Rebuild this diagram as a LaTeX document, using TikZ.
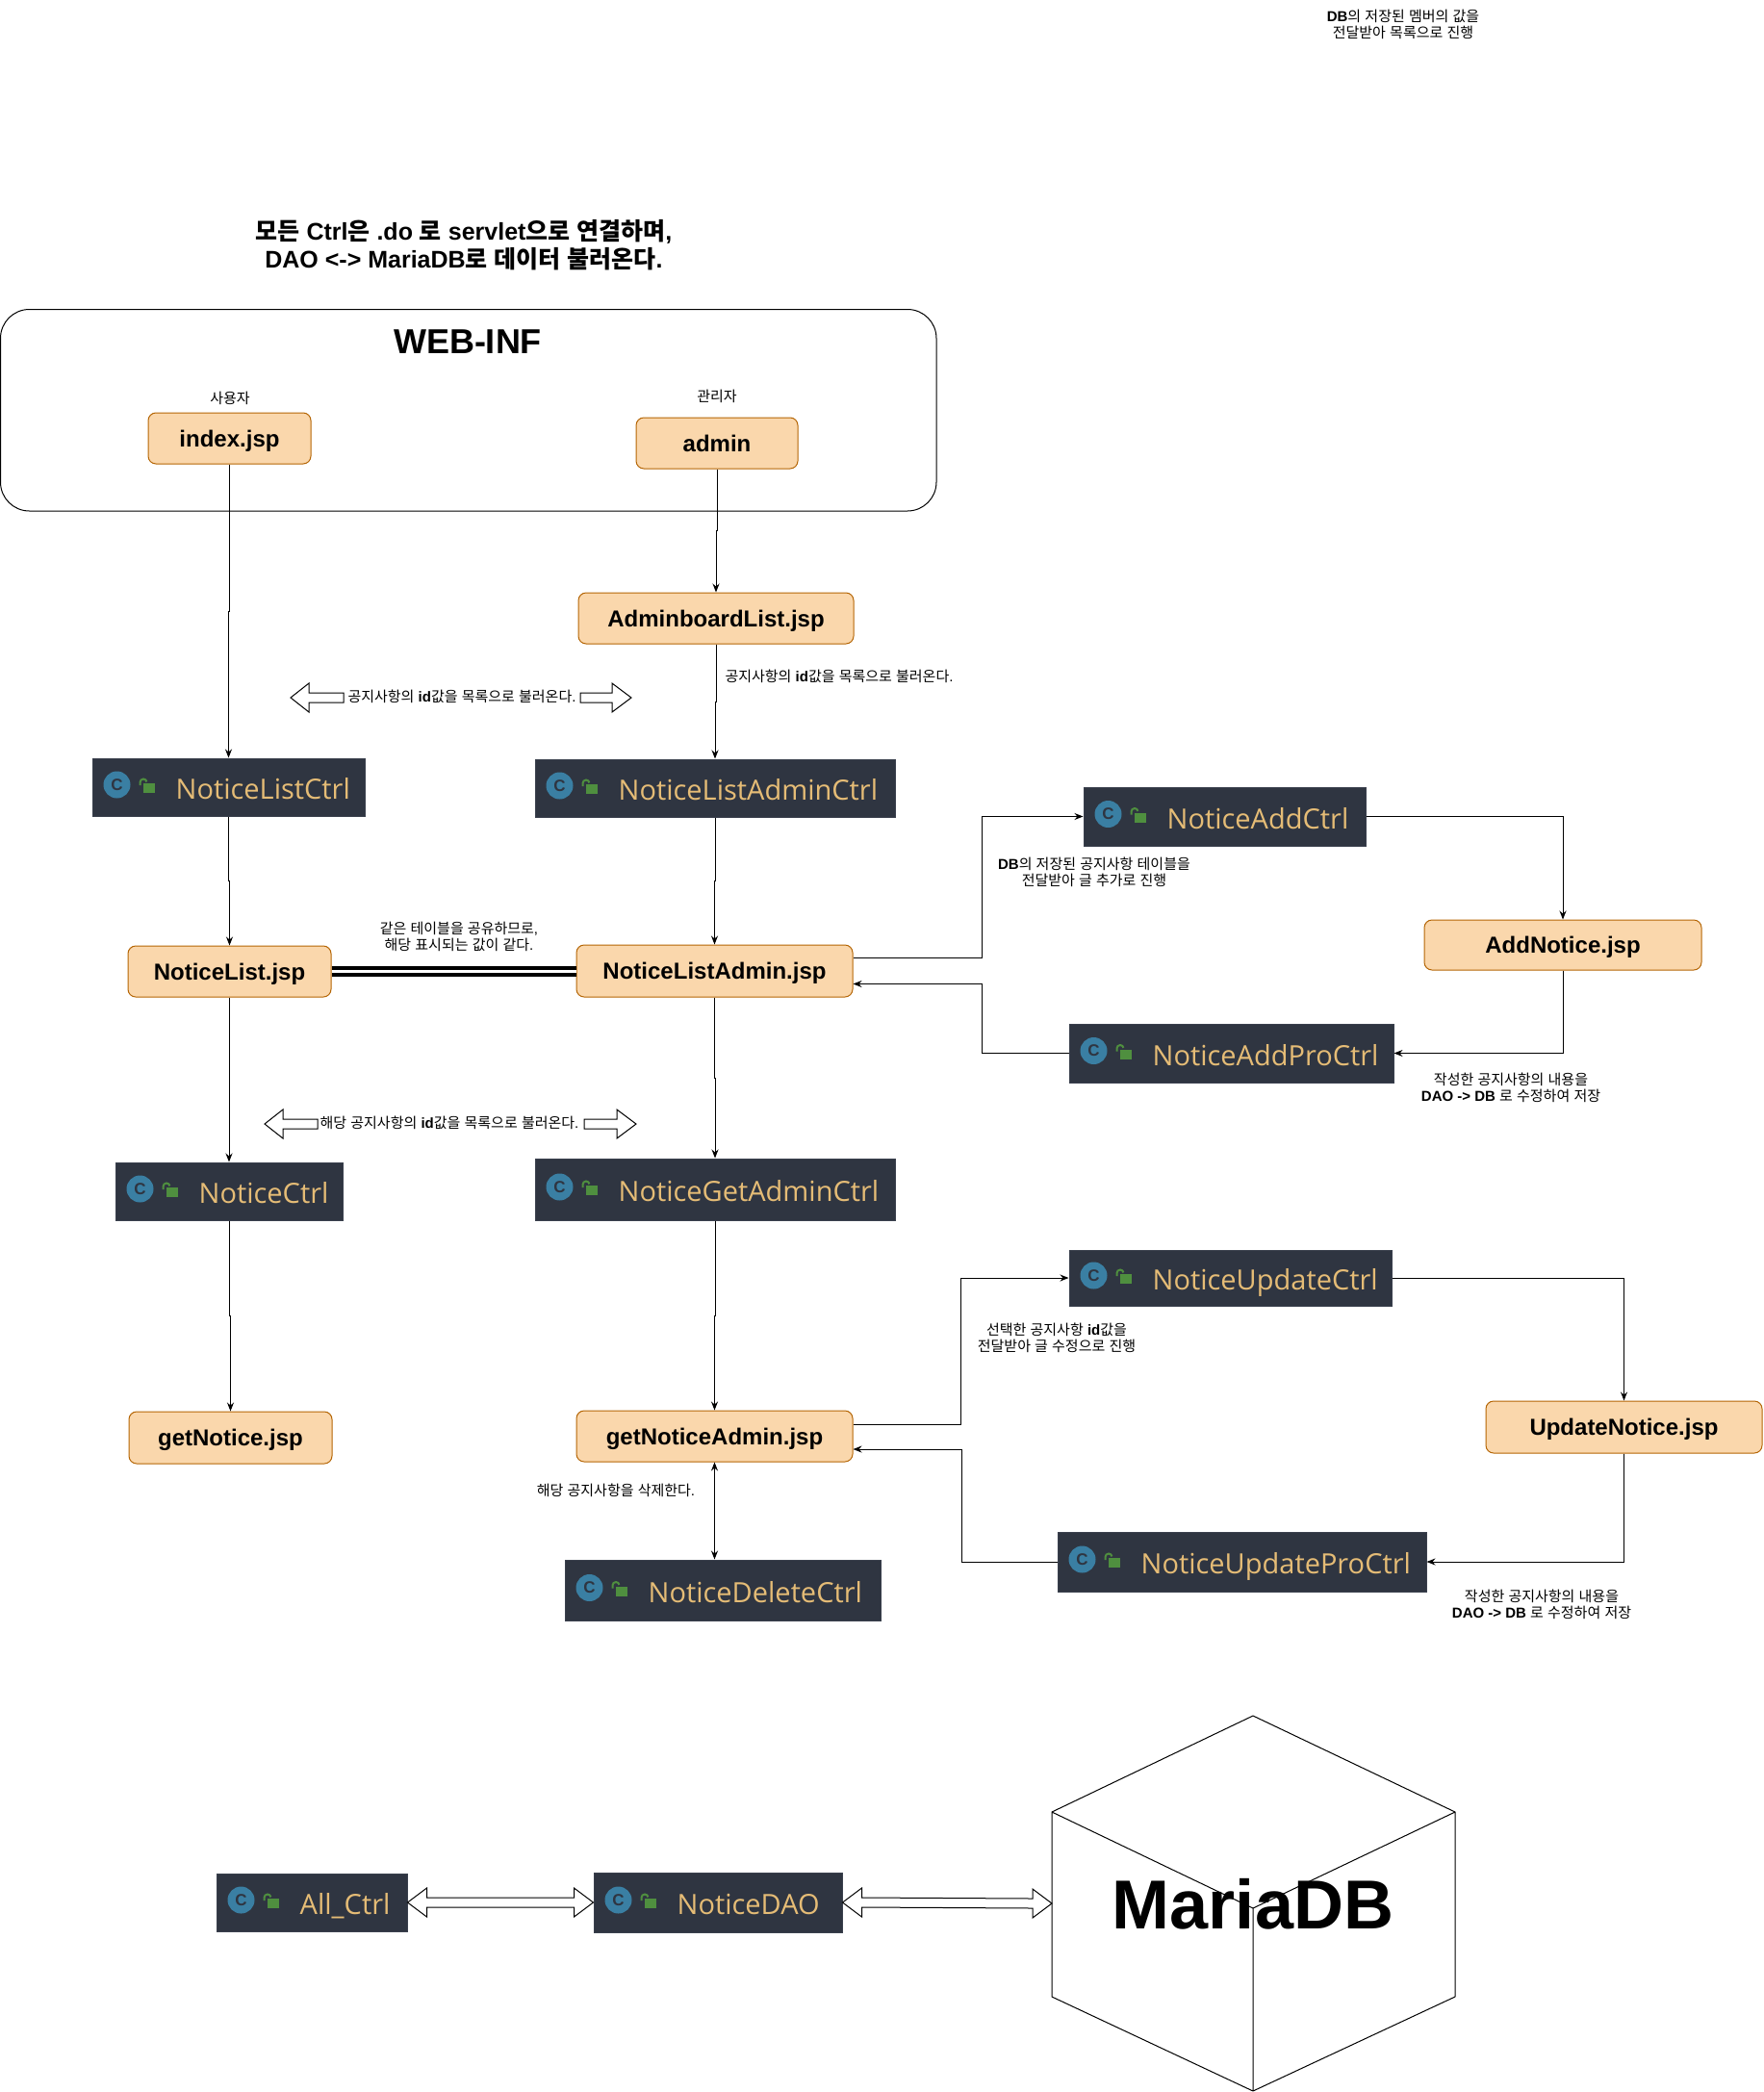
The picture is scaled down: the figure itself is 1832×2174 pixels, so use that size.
\documentclass[tikz,border=0pt]{standalone}
\usepackage{fontspec}
\setmainfont{Liberation Sans}
\newfontfamily\krfont{Noto Sans CJK KR}
\newfontfamily\ctrlfont{Open Sans}
\usetikzlibrary{calc,arrows.meta}
\definecolor{jspfill}{HTML}{FAD7AC}
\definecolor{jspline}{HTML}{B46504}
\definecolor{ctrlbg}{HTML}{2F3541}
\definecolor{ctrledge}{HTML}{3A404D}
\definecolor{ctrltxt}{HTML}{E5BC76}
\definecolor{icoblue}{HTML}{3A7FA3}
\definecolor{icogreen}{HTML}{4F8F3F}
% Hangul runs switch to the CJK family
\newXeTeXintercharclass\krclass
\count255="AC00
\loop\XeTeXcharclass\count255=\krclass\ifnum\count255<"D7A3 \advance\count255 by 1 \repeat
\XeTeXinterchartokenstate=1
\XeTeXinterchartoks 0 \krclass={\krfont}
\XeTeXinterchartoks \krclass 0 ={\rmfamily}
\XeTeXinterchartoks 4095 \krclass={\krfont}
\XeTeXinterchartoks \krclass 4095 ={\rmfamily}
\tikzset{
  jsp/.style={draw=jspline,fill=jspfill,rounded corners=8pt,line width=1pt,inner sep=0pt,
     text height=17pt,text depth=0pt,font=\fontsize{24}{28}\selectfont\bfseries},
  ctrlbox/.style={draw=ctrledge,fill=ctrlbg,line width=1pt,inner sep=0pt},
  ctrltext/.style={text=ctrltxt,inner sep=0pt,anchor=west,text height=22pt,text depth=0pt,font=\ctrlfont\fontsize{29}{32}\selectfont},
  icon/.style={circle,fill=icoblue,minimum size=28pt,inner sep=0pt,text=ctrlbg,font=\fontsize{17}{17}\selectfont\bfseries},
  note/.style={align=center,inner sep=0pt,font=\fontsize{15}{17}\selectfont},
  flow/.style={draw=black,line width=1pt,-{Stealth[length=9pt,width=7pt]}},
  wire/.style={draw=black,line width=1pt},
  kink/.style={to path={(\tikztostart) |- ($(\tikztostart)!.5!(\tikztotarget)$) -| (\tikztotarget)}},
  block/.style={draw=black,fill=white,line width=1pt},
}
\newcommand{\jspnode}[6]{\node[jsp,minimum width={#4pt-#2pt},minimum height={#5pt-#3pt}] (#1) at ({(#2+#4)/2},{(#3+#5)/2}) {#6};}
\newcommand{\ctrlnode}[6]{%
  \node[ctrlbox,minimum width={#4pt-#2pt},minimum height={#5pt-#3pt}] (#1) at ({(#2+#4)/2},{(#3+#5)/2}) {};
  \node[icon] (#1-c) at ([xshift=26pt,yshift=2.5pt]#1.west) {C};
  \fill[icogreen] ([xshift=53pt,yshift=4pt]#1.west) rectangle ++(12,10);
  \draw[icogreen,line width=2pt] ([xshift=50pt,yshift=2pt]#1.west) -- ++(0,-3) arc[start angle=180,end angle=10,radius=3.5pt];
  \node[ctrltext] (#1-t) at ([xshift=87pt,yshift=-1.5pt]#1.west) {#6};
}
\newcommand{\blockpair}[2]{%
  \draw[block] (#1) -- ($(#1)+(20,-15)$) -- ($(#1)+(20,-5)$) -- ($(#2)+(-20,-5)$) -- ($(#2)+(-20,-15)$) -- (#2)
     -- ($(#2)+(-20,15)$) -- ($(#2)+(-20,5)$) -- ($(#1)+(20,5)$) -- ($(#1)+(20,15)$) -- cycle;
}
\begin{document}
\begin{tikzpicture}[x=1pt,y=-1pt]
\useasboundingbox (0,0) rectangle (1832,2174);
\node[note] (topnote) at (1458,25) {\textbf{DB}의 저장된 멤버의 값을\\전달받아 목록으로 진행};
\node[align=center,inner sep=0pt,font=\fontsize{25}{29}\selectfont\bfseries] (title) at (482,255) {모든 Ctrl은 .do 로 servlet으로 연결하며,\\DAO <-> MariaDB로 데이터 불러온다.};
\draw[line width=1pt,rounded corners=30pt] (0.5,321.5) rectangle (973,531);
\node[inner sep=0pt,font=\fontsize{36}{36}\selectfont\bfseries] (webinf) at (486,355) {WEB-INF};
\node[note] (user) at (239,414) {사용자};
\node[note] (manager) at (745,412) {관리자};
\jspnode{index}{154}{429}{323}{482}{index.jsp}
\jspnode{admin}{661}{434}{829}{487}{admin}
\jspnode{adminboard}{601}{616}{887}{669}{AdminboardList.jsp}
\ctrlnode{listctrl}{96}{788}{379}{848}{NoticeListCtrl}
\ctrlnode{listadminctrl}{556}{789}{930}{849}{NoticeListAdminCtrl}
\jspnode{noticelist}{133}{983}{344}{1036}{NoticeList.jsp}
\jspnode{listadmin}{599}{982}{886}{1036}{NoticeListAdmin.jsp}
\ctrlnode{addctrl}{1126}{818}{1419}{879}{NoticeAddCtrl}
\jspnode{addnotice}{1480}{956}{1768}{1008}{AddNotice.jsp}
\ctrlnode{addpro}{1111}{1064}{1448}{1125}{NoticeAddProCtrl}
\ctrlnode{noticectrl}{120}{1208}{356}{1268}{NoticeCtrl}
\ctrlnode{getadmin}{556}{1204}{930}{1268}{NoticeGetAdminCtrl}
\ctrlnode{updatectrl}{1111}{1299}{1446}{1357}{NoticeUpdateCtrl}
\jspnode{updatenotice}{1544}{1456}{1831}{1510}{UpdateNotice.jsp}
\jspnode{getnotice}{134}{1467}{345}{1521}{getNotice.jsp}
\jspnode{getnoticeadmin}{599}{1466}{886}{1519}{getNoticeAdmin.jsp}
\ctrlnode{updatepro}{1099}{1592}{1482}{1654}{NoticeUpdateProCtrl}
\ctrlnode{deletectrl}{587}{1621}{915}{1684}{NoticeDeleteCtrl}
\ctrlnode{allctrl}{225}{1947}{423}{2007}{All\_Ctrl}
\ctrlnode{dao}{617}{1946}{875}{2008}{NoticeDAO}
% cube
\coordinate (cT) at (1302,1783); \coordinate (cLT) at (1093,1883); \coordinate (cRT) at (1512,1883);
\coordinate (cM) at (1302,1983); \coordinate (cLB) at (1093,2075); \coordinate (cRB) at (1512,2075);
\coordinate (cB) at (1302,2173); \coordinate (cW) at (1093,1978);
\draw[line width=1pt,line join=round] (cT) -- (cRT) -- (cRB) -- (cB) -- (cLB) -- (cLT) -- cycle (cLT) -- (cM) -- (cRT) (cM) -- (cB);
\node[inner sep=0pt,font=\fontsize{72}{72}\selectfont\bfseries] (mariadb) at (1302,1979) {MariaDB};
% connectors
\draw[flow] (index.south) to[kink] (listctrl.north);
\draw[flow] (admin.south) to[kink] (adminboard.north);
\draw[flow] (adminboard.south) to[kink] (listadminctrl.north);
\draw[flow] (listctrl.south) to[kink] (noticelist.north);
\draw[flow] (listadminctrl.south) to[kink] (listadmin.north);
\draw[flow] (noticelist.south) to[kink] (noticectrl.north);
\draw[flow] (listadmin.south) to[kink] (getadmin.north);
\draw[flow] (noticectrl.south) to[kink] (getnotice.north);
\draw[flow] (getadmin.south) to[kink] (getnoticeadmin.north);
\draw[flow,{Stealth[length=9pt,width=7pt]}-{Stealth[length=9pt,width=7pt]}] (getnoticeadmin.south) -- (getnoticeadmin.south |- deletectrl.north);
\draw[draw=black,line width=3.5pt,double=white,double distance=3.5pt] (noticelist.east) -- (noticelist.east -| listadmin.west);
\draw[flow] ([yshift=13.5pt]listadmin.east) -- ++(134,0) |- (addctrl.west);
\draw[flow] (addctrl.east) -| (addnotice.north);
\draw[flow] (addnotice.south) |- (addpro.east);
\draw[flow] (addpro.west) -- ++(-90,0) |- ([yshift=-13.5pt]listadmin.east);
\draw[flow] ([yshift=12.5pt]getnoticeadmin.east) -- ++(112,0) |- (updatectrl.west);
\draw[flow] (updatectrl.east) -| (updatenotice.north);
\draw[flow] (updatenotice.south) |- (updatepro.east);
\draw[flow] (updatepro.west) -- ++(-99,0) |- ([yshift=-13.5pt]getnoticeadmin.east);
\blockpair{allctrl.east}{dao.west}
\blockpair{dao.east}{cW}
% block arrows with captions
\coordinate (ba) at (302,725); \coordinate (bb) at (656,725);
\draw[block] (ba) -- ++(19,-15) -- ++(0,10) -- ++(36,0) -- ++(0,10) -- ++(-36,0) -- ++(0,10) -- cycle;
\draw[block] (bb) -- ++(-20,-15) -- ++(0,10) -- ++(-33,0) -- ++(0,10) -- ++(33,0) -- ++(0,10) -- cycle;
\node[note] (cap1) at (480,724) {공지사항의 \textbf{id}값을 목록으로 불러온다.};
\coordinate (bc) at (275,1168); \coordinate (bd) at (661,1168);
\draw[block] (bc) -- ++(19,-15) -- ++(0,10) -- ++(36,0) -- ++(0,10) -- ++(-36,0) -- ++(0,10) -- cycle;
\draw[block] (bd) -- ++(-20,-15) -- ++(0,10) -- ++(-34,0) -- ++(0,10) -- ++(34,0) -- ++(0,10) -- cycle;
\node[note] (cap2) at (467,1167) {해당 공지사항의 \textbf{id}값을 목록으로 불러온다.};
% notes
\node[note] (n1) at (872,703) {공지사항의 \textbf{id}값을 목록으로 불러온다.};
\node[note] (n2) at (477,973) {같은 테이블을 공유하므로,\\해당 표시되는 값이 같다.};
\node[note] (n3) at (1137,906) {\textbf{DB}의 저장된 공지사항 테이블을\\전달받아 글 추가로 진행};
\node[note] (n4) at (1570,1130) {작성한 공지사항의 내용을\\\textbf{DAO -> DB} 로 수정하여 저장};
\node[note] (n5) at (1098,1390) {선택한 공지사항 \textbf{id}값을\\전달받아 글 수정으로 진행};
\node[note] (n6) at (640,1549) {해당 공지사항을 삭제한다.};
\node[note] (n7) at (1602,1667) {작성한 공지사항의 내용을\\\textbf{DAO -> DB} 로 수정하여 저장};
\end{tikzpicture}
\end{document}
